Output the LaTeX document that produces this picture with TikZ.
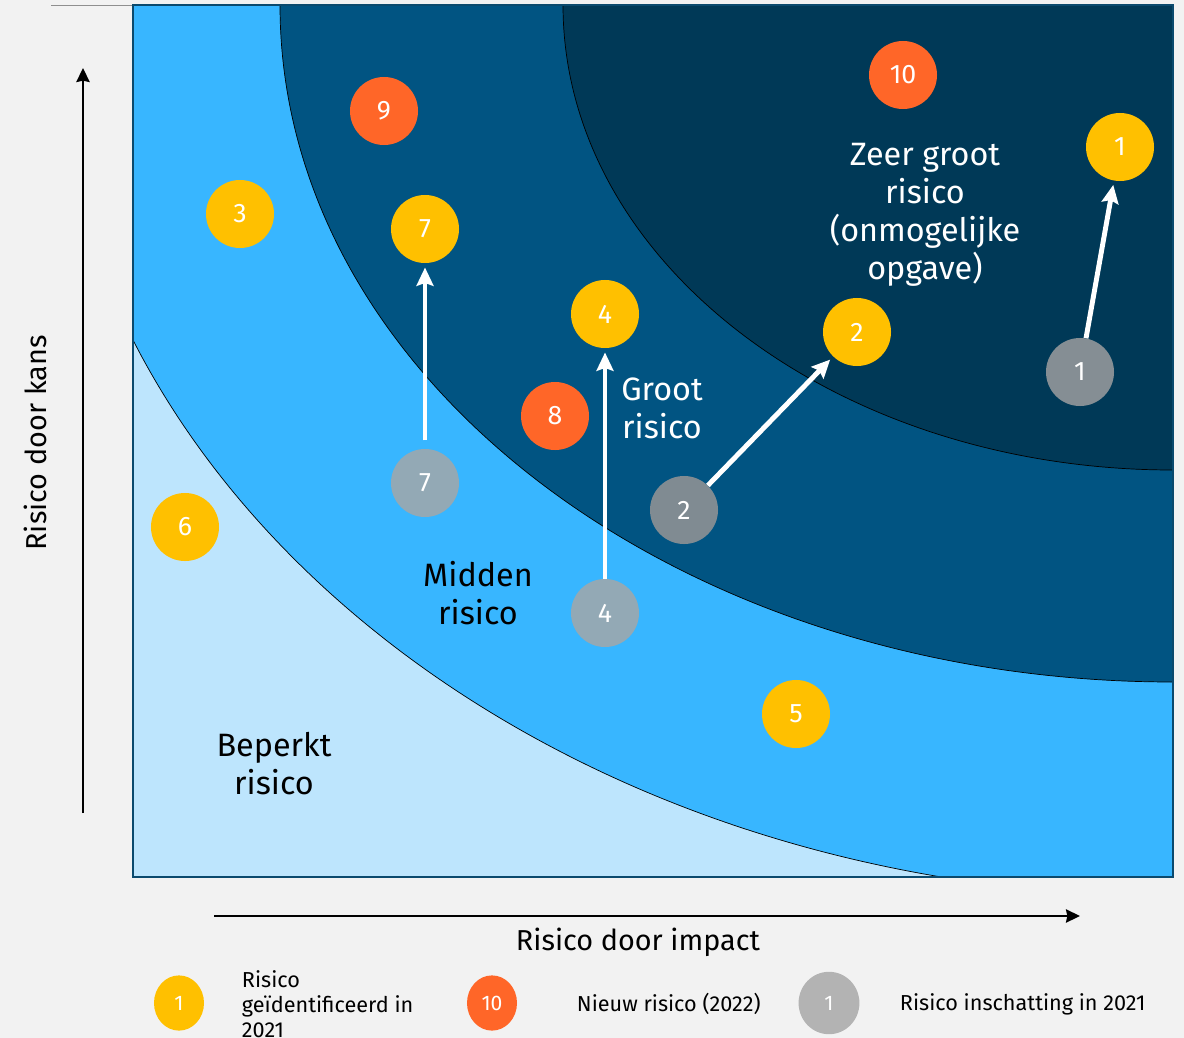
\documentclass[tikz,border=0pt]{standalone}
\usepackage{fontspec}
\setmainfont{Fira Sans}
\usetikzlibrary{arrows.meta,positioning,shapes.geometric}

\definecolor{achtergrond}{HTML}{F2F2F2}
\definecolor{beperktkleur}{HTML}{BDE5FD}
\definecolor{middenkleur}{HTML}{38B6FF}
\definecolor{grootkleur}{HTML}{015482}
\definecolor{zeergrootkleur}{HTML}{003957}
\definecolor{randkleur}{HTML}{0B4A6E}
\definecolor{geel}{HTML}{FFC000}
\definecolor{oranje}{HTML}{FF6628}
\definecolor{grijs}{HTML}{B3B3B3}
\definecolor{oudA}{HTML}{858E94}
\definecolor{oudB}{HTML}{808B92}
\definecolor{oudC}{HTML}{93A9B5}

\tikzset{oudrisico/.style={knoop,fill=#1}}

\begin{document}
\begin{tikzpicture}[x=0.025cm,y=-0.025cm,>={Stealth[length=13pt,width=12pt,inset=2pt]},
    knoop/.style={circle,minimum size=1.7cm,inner sep=0pt,text=white,font=\fontsize{19}{22}\selectfont},
    geelrisico/.style={knoop,fill=geel},
    nieuwrisico/.style={knoop,fill=oranje},
    legenda/.style={ellipse,inner sep=0pt,minimum width=1.25cm,minimum height=1.38cm,text=white,font=\fontsize{15}{17}\selectfont},
    uitleg/.style={align=left,font=\fontsize{15.4}{17.8}\selectfont},
    zone/.style={align=center,font=\fontsize{23}{27}\selectfont},
    pijl/.style={->,white,line width=3.5pt,shorten >=3pt},
    as/.style={->,>={Stealth[length=10pt,width=9.5pt,inset=1pt]},line width=1.4pt},
    aslabel/.style={font=\fontsize{20.5}{24}\selectfont}]

    % achtergrond en vlakken
    \fill[achtergrond] (0,0) rectangle (1184,1038);
    \useasboundingbox (0,0) rectangle (1184,1038);
    \draw[grijs!80!black,line width=0.6pt] (51,5) -- (133,5);
    \begin{scope}
        \clip (133,5) rectangle (1173,877);
        \fill[beperktkleur] (133,5) rectangle (1173,877);
        \filldraw[fill=middenkleur,draw=black,line width=0.5pt] (1173,5) ellipse [x radius=1122,y radius=891];
        \filldraw[fill=grootkleur,draw=black,line width=0.5pt] (1173,5) ellipse [x radius=893,y radius=677];
        \filldraw[fill=zeergrootkleur,draw=black,line width=0.5pt] (1173,5) ellipse [x radius=610,y radius=465];
    \end{scope}
    \draw[randkleur,line width=1.2pt] (133,5) rectangle (1173,877);

    % assen
    \coordinate (kansvan) at (83,813);
    \coordinate (kansnaar) at (83,68);
    \coordinate (impactvan) at (214,916);
    \coordinate (impactnaar) at (1080,916);
    \draw[as] (kansvan) -- (kansnaar);
    \draw[as] (impactvan) -- (impactnaar);
    \node[aslabel,rotate=90] (kans) at (35,443) {Risico door kans};
    \node[aslabel] (impact) at (638,942) {Risico door impact};

    % zones
    \node[zone,text=white] (zeergroot) at (925,215) {Zeer groot\\risico\\(onmogelijke\\opgave)};
    \node[zone,text=white] (groot) at (662,408) {Groot\\risico};
    \node[zone] (midden) at (478,593) {Midden\\risico};
    \node[zone] (beperkt) at (274,764) {Beperkt\\risico};

    % risico's
    \node[nieuwrisico] (n10) at (903,75) {10};
    \node[nieuwrisico] (n9) at (384,111) {9};
    \node[nieuwrisico] (n8) at (555,416) {8};
    \node[geelrisico] (g1) at (1120,147) {1};
    \node[geelrisico] (g3) at (240,214) {3};
    \node[geelrisico] (g7) at (425,229) {7};
    \node[geelrisico] (g4) at (605,314) {4};
    \node[geelrisico] (g2) at (857,332) {2};
    \node[geelrisico] (g6) at (185,527) {6};
    \node[geelrisico] (g5) at (796,714) {5};
    \node[oudrisico=oudA] (o1) at (1080,372) {1};
    \node[oudrisico=oudB] (o2) at (684,510) {2};
    \node[oudrisico=oudC] (o7) at (425,483) {7};
    \node[oudrisico=oudC] (o4) at (605,613) {4};

    \path[pijl]
    (o1) edge (g1)
    (o2) edge (g2)
    (o4) edge (g4)
    (o7) edge [shorten <=6pt] (g7);

    % legenda
    \node[legenda,fill=geel] (lg) at (179,1003) {1};
    \node[uitleg,anchor=west] (lgtekst) at (237,1004) {Risico\\geïdentificeerd in\\2021};
    \node[legenda,fill=oranje] (ln) at (492,1003) {10};
    \node[uitleg,anchor=west] (lntekst) at (572,1004) {Nieuw risico (2022)};
    \node[legenda,fill=grijs,minimum width=1.52cm,minimum height=1.56cm] (lo) at (829,1003) {1};
    \node[uitleg,anchor=west] (lotekst) at (895,1004) {Risico inschatting in 2021};
\end{tikzpicture}
\end{document}
